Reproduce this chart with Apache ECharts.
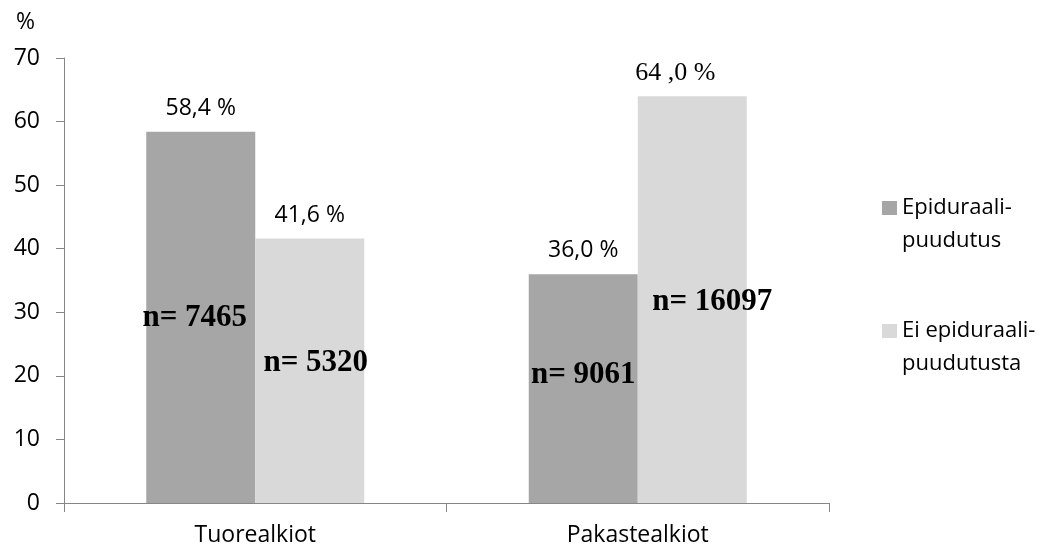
<!DOCTYPE html>
<html>
<head>
<meta charset="utf-8">
<script src="https://cdn.jsdelivr.net/npm/echarts@6/dist/echarts.min.js"></script>
<style>
  html, body { margin: 0; padding: 0; background: #fff; }
  #chart { width: 1049px; height: 552px; }
</style>
</head>
<body>
<div id="chart"></div>
<script>
// Categories and series
const categories = ['Tuorealkiot', 'Pakastealkiot'];
const seriesNames = ['Epiduraali-\npuudutus', 'Ei epiduraali-\npuudutusta'];
const epiduralValues = [58.4, 36.0];
const noEpiduralValues = [41.6, 64.0];
const epiduralLabels = ['58,4 %', '36,0 %'];
const noEpiduralLabels = ['41,6 %', '64 ,0 %'];
const epiduralCounts = ['n= 7465', 'n= 9061'];
const noEpiduralCounts = ['n= 5320', 'n= 16097'];
const yTicks = { min: 0, max: 70, interval: 10 };

const sans = '"Open Sans", sans-serif';
const serif = '"Liberation Serif", serif';

// where the count labels sit inside each bar (value level, x shift in px)
const countPlacement = {
  epidural: [{ level: 29.1, dx: -6 }, { level: 20.1, dx: 0 }],
  noEpidural: [{ level: 22.0, dx: 6 }, { level: 31.6, dx: 20 }]
};

function countMarks(counts, placement) {
  return counts.map((txt, i) => ({
    coord: [categories[i], placement[i].level],
    symbol: 'rect',
    symbolSize: 1,
    itemStyle: { color: 'rgba(0,0,0,0)' },
    label: {
      show: true,
      formatter: txt,
      position: 'inside',
      offset: [placement[i].dx, 0],
      fontFamily: serif,
      fontWeight: 'bold',
      fontSize: 31,
      color: '#000'
    }
  }));
}

function barData(values, labels, serifIndex) {
  return values.map((v, i) => {
    const item = { value: v, labelText: labels[i] };
    if (i === serifIndex) {
      item.label = { fontFamily: serif, fontSize: 26, offset: [-17, 2] };
    }
    return item;
  });
}

const chart = echarts.init(document.getElementById('chart'), null, { renderer: 'canvas' });

chart.setOption({
  animation: false,
  backgroundColor: '#ffffff',
  title: {
    text: '%',
    left: 11,
    top: 6,
    textStyle: { fontFamily: sans, fontSize: 23, fontWeight: 'normal', color: '#000' }
  },
  grid: { left: 64, right: 220, top: 58, bottom: 49, containLabel: false },
  legend: {
    orient: 'vertical',
    left: 882,
    top: 158.5,
    padding: 0,
    itemGap: 24,
    itemWidth: 15,
    itemHeight: 14,
    icon: 'rect',
    selectedMode: false,
    data: seriesNames,
    // an empty first line keeps the icon level with the first text line
    formatter: name => '\n' + name,
    textStyle: {
      fontFamily: sans,
      fontSize: 22,
      lineHeight: 33,
      color: '#000'
    }
  },
  xAxis: {
    type: 'category',
    data: categories,
    axisLine: { lineStyle: { color: '#868686', width: 1 } },
    axisTick: { show: true, length: 9, lineStyle: { color: '#868686' } },
    axisLabel: { fontFamily: sans, fontSize: 23, color: '#000', margin: 21 }
  },
  yAxis: {
    type: 'value',
    min: yTicks.min,
    max: yTicks.max,
    interval: yTicks.interval,
    splitLine: { show: false },
    axisLine: { show: true, lineStyle: { color: '#868686', width: 1 } },
    axisTick: { show: true, length: 8, lineStyle: { color: '#868686' } },
    axisLabel: { fontFamily: sans, fontSize: 23, color: '#000', margin: 24 }
  },
  series: [
    {
      name: seriesNames[0],
      type: 'bar',
      barWidth: 109,
      barGap: '0%',
      itemStyle: { color: '#a6a6a6' },
      data: barData(epiduralValues, epiduralLabels, -1),
      label: {
        show: true,
        position: 'top',
        distance: 12,
        fontFamily: sans,
        fontSize: 23,
        color: '#000',
        formatter: p => p.data.labelText
      },
      markPoint: { silent: true, data: countMarks(epiduralCounts, countPlacement.epidural) }
    },
    {
      name: seriesNames[1],
      type: 'bar',
      barWidth: 109,
      barGap: '0%',
      itemStyle: { color: '#d9d9d9' },
      data: barData(noEpiduralValues, noEpiduralLabels, 1),
      label: {
        show: true,
        position: 'top',
        distance: 12,
        fontFamily: sans,
        fontSize: 23,
        color: '#000',
        formatter: p => p.data.labelText
      },
      markPoint: { silent: true, data: countMarks(noEpiduralCounts, countPlacement.noEpidural) }
    }
  ]
});
</script>
</body>
</html>
